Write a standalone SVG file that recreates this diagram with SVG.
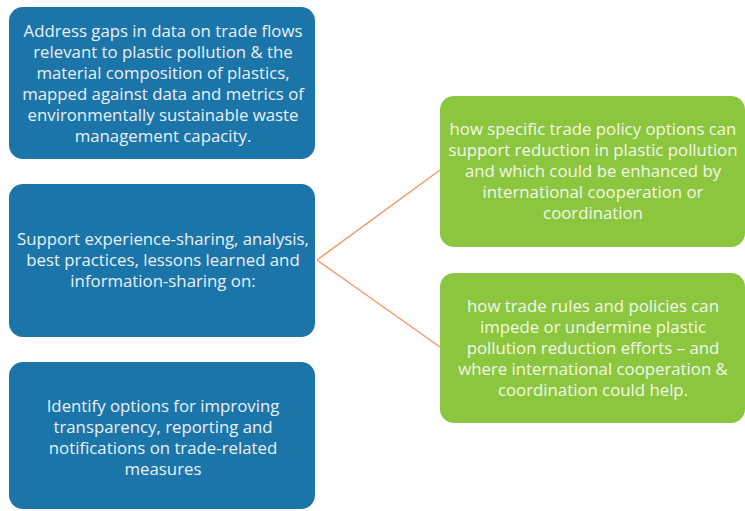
<svg xmlns="http://www.w3.org/2000/svg" width="745" height="511" viewBox="0 0 745 511">
<style>
.blue{fill:#1b75a9}
.green{fill:#8cc63f}
.t{font-family:"Open Sans","Noto Sans","Liberation Sans",sans-serif;font-size:16.8px;text-anchor:middle}
.tb{fill:#e9f1f6}
.tg{fill:#f2f8e8}
.conn{stroke:#ee9a6a;stroke-width:1.5;fill:none}
</style>
<rect width="745" height="511" fill="#ffffff"/>
<g id="connectors">
<path class="conn" d="M317,260 L440,170"/>
<path class="conn" d="M317,260 L440,347"/>
</g>
<g id="node-address">
<rect class="blue" x="9" y="7" width="306" height="152" rx="14"/>
<text class="t tb" x="163" y="37">Address gaps in data on trade flows</text>
<text class="t tb" x="163" y="58">relevant to plastic pollution &amp; the</text>
<text class="t tb" x="163" y="79">material composition of plastics,</text>
<text class="t tb" x="163" y="100">mapped against data and metrics of</text>
<text class="t tb" x="163" y="121">environmentally sustainable waste</text>
<text class="t tb" x="163" y="142">management capacity.</text>
</g>
<g id="node-support">
<rect class="blue" x="9" y="184" width="306" height="153" rx="14"/>
<text class="t tb" x="163" y="245">Support experience-sharing, analysis,</text>
<text class="t tb" x="163" y="266">best practices, lessons learned and</text>
<text class="t tb" x="163" y="287">information-sharing on:</text>
</g>
<g id="node-identify">
<rect class="blue" x="9" y="362" width="306" height="147" rx="14"/>
<text class="t tb" x="163" y="412">Identify options for improving</text>
<text class="t tb" x="163" y="433">transparency, reporting and</text>
<text class="t tb" x="163" y="454">notifications on trade-related</text>
<text class="t tb" x="163" y="475">measures</text>
</g>
<g id="node-specific">
<rect class="green" x="440" y="96" width="305" height="151" rx="14"/>
<text class="t tg" x="593" y="135">how specific trade policy options can</text>
<text class="t tg" x="593" y="156">support reduction in plastic pollution</text>
<text class="t tg" x="593" y="177">and which could be enhanced by</text>
<text class="t tg" x="593" y="198">international cooperation or</text>
<text class="t tg" x="593" y="219">coordination</text>
</g>
<g id="node-rules">
<rect class="green" x="440" y="273" width="305" height="150" rx="14"/>
<text class="t tg" x="593" y="312">how trade rules and policies can</text>
<text class="t tg" x="593" y="333">impede or undermine plastic</text>
<text class="t tg" x="593" y="354">pollution reduction efforts – and</text>
<text class="t tg" x="593" y="375">where international cooperation &amp;</text>
<text class="t tg" x="593" y="396">coordination could help.</text>
</g>
</svg>
